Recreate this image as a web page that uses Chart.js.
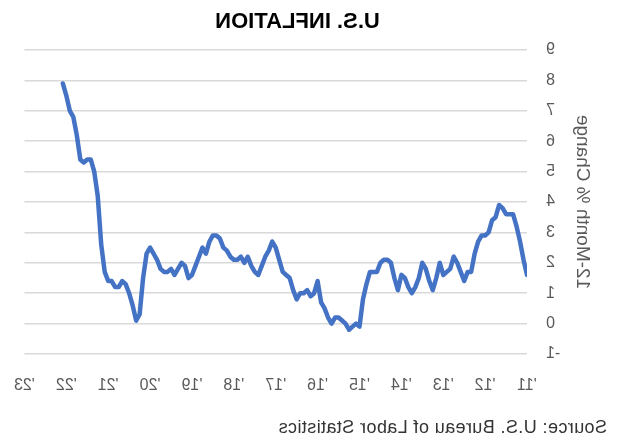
<!DOCTYPE html>
<html>
<head>
<meta charset="utf-8">
<script src="https://cdn.jsdelivr.net/npm/chart.js@4.4.0/dist/chart.umd.min.js"></script>
<style>
html, body { margin: 0; padding: 0; background: #fff; overflow: hidden; }
#wrap {
    position: relative;
    width: 618px;
    height: 441px;
    transform: scaleX(-1);
    font-family: "Liberation Sans", Arial, sans-serif;
}
#chart { position: absolute; left: 0; top: 0; }
#title {
    position: absolute; left: 0; top: 10px; width: 641px;
    text-align: center; font-weight: bold; font-size: 22px; line-height: 22px; color: #000;
}
#source {
    position: absolute; left: 11px; top: 418px;
    font-size: 18px; line-height: 18px; letter-spacing: 0.4px; color: #333; white-space: nowrap;
}
</style>
</head>
<body>
<div id="wrap">
    <canvas id="chart" width="618" height="441"></canvas>
    <div id="title">U.S. INFLATION</div>
    <div id="source">Source: U.S. Bureau of Labor Statistics</div>
</div>
<script>
// 12-month % change, monthly, Jan 2011 .. Feb 2022
var cpi2011 = [1.6, 2.1, 2.7, 3.2, 3.6, 3.6, 3.6, 3.8, 3.9, 3.5, 3.4, 3.0];
var cpi2012 = [2.9, 2.9, 2.7, 2.3, 1.7, 1.7, 1.4, 1.7, 2.0, 2.2, 1.8, 1.7];
var cpi2013 = [1.6, 2.0, 1.5, 1.1, 1.4, 1.8, 2.0, 1.5, 1.2, 1.0, 1.2, 1.5];
var cpi2014 = [1.6, 1.1, 1.5, 2.0, 2.1, 2.1, 2.0, 1.7, 1.7, 1.7, 1.3, 0.8];
var cpi2015 = [-0.1, 0.0, -0.1, -0.2, 0.0, 0.1, 0.2, 0.2, 0.0, 0.2, 0.5, 0.7];
var cpi2016 = [1.4, 1.0, 0.9, 1.1, 1.0, 1.0, 0.8, 1.1, 1.5, 1.6, 1.7, 2.1];
var cpi2017 = [2.5, 2.7, 2.4, 2.2, 1.9, 1.6, 1.7, 1.9, 2.2, 2.0, 2.2, 2.1];
var cpi2018 = [2.1, 2.2, 2.4, 2.5, 2.8, 2.9, 2.9, 2.7, 2.3, 2.5, 2.2, 1.9];
var cpi2019 = [1.6, 1.5, 1.9, 2.0, 1.8, 1.6, 1.8, 1.7, 1.7, 1.8, 2.1, 2.3];
var cpi2020 = [2.5, 2.3, 1.5, 0.3, 0.1, 0.6, 1.0, 1.3, 1.4, 1.2, 1.2, 1.4];
var cpi2021 = [1.4, 1.7, 2.6, 4.2, 5.0, 5.4, 5.4, 5.3, 5.4, 6.2, 6.8, 7.0];
var cpi2022 = [7.5, 7.9];

var yearLabels = ["'11", "'12", "'13", "'14", "'15", "'16", "'17", "'18", "'19", "'20", "'21", "'22", "'23"];

var cpiChange = [].concat(cpi2011, cpi2012, cpi2013, cpi2014, cpi2015, cpi2016,
    cpi2017, cpi2018, cpi2019, cpi2020, cpi2021, cpi2022);

var points = cpiChange.map(function (v, i) { return { x: i, y: v }; });

var fontFamily = '"Liberation Sans", Arial, sans-serif';

var ctx = document.getElementById('chart').getContext('2d');
var inflationChart = new Chart(ctx, {
    type: 'line',
    data: {
        datasets: [{
            label: '12-Month % Change',
            data: points,
            borderColor: '#4472C4',
            borderWidth: 4.5,
            borderCapStyle: 'round',
            borderJoinStyle: 'round',
            pointRadius: 0,
            tension: 0,
            fill: false
        }]
    },
    options: {
        responsive: false,
        animation: false,
        layout: { padding: { top: 50, right: 22, bottom: 47, left: 0 } },
        plugins: {
            legend: { display: false },
            tooltip: { enabled: false }
        },
        scales: {
            x: {
                type: 'linear',
                min: 0,
                max: (yearLabels.length - 1) * 12,
                grid: { display: false },
                border: { display: false },
                afterFit: function (scale) { scale.height = 40; },
                ticks: {
                    stepSize: 12,
                    autoSkip: false,
                    maxRotation: 0,
                    padding: 14,
                    color: '#595959',
                    font: { family: fontFamily, size: 16 },
                    callback: function (v) { return yearLabels[v / 12]; }
                }
            },
            y: {
                min: -1,
                max: 9,
                grid: { color: '#d9d9d9', lineWidth: 1.5, drawTicks: false },
                border: { display: false },
                afterFit: function (scale) { scale.width = 91; },
                ticks: {
                    stepSize: 1,
                    padding: 19,
                    color: '#595959',
                    font: { family: fontFamily, size: 16 }
                },
                title: {
                    display: true,
                    text: '12-Month % Change',
                    color: '#595959',
                    font: { family: fontFamily, size: 19 },
                    padding: { top: 24.6, bottom: 0 }
                }
            }
        }
    }
});
</script>
</body>
</html>
